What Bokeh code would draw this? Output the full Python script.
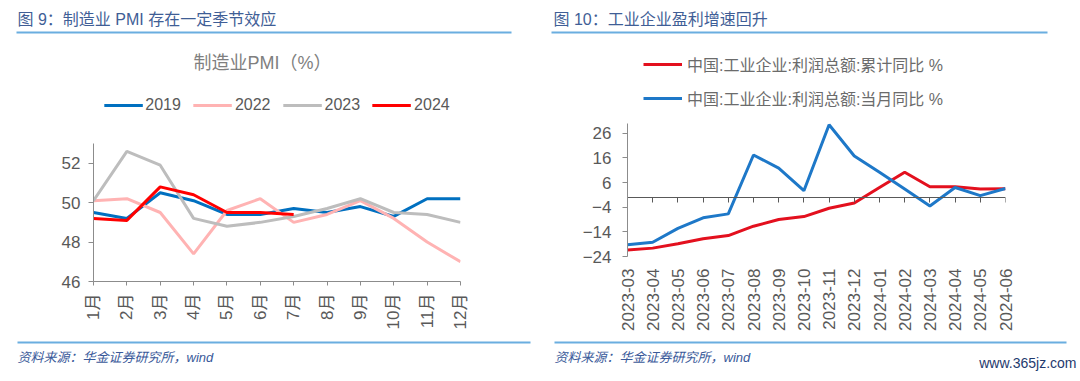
import math
from bokeh.plotting import figure
from bokeh.models import (Range1d, FixedTicker, LinearAxis, Legend, LegendItem,
                          Label, BoxAnnotation)
from bokeh.layouts import row, column
from bokeh.embed import file_html
from bokeh.resources import INLINE

# ---------------- data ----------------
months = list(range(1, 13))
month_labels = [f"{m}月" for m in months]
pmi_2019 = [49.5, 49.2, 50.5, 50.1, 49.4, 49.4, 49.7, 49.5, 49.8, 49.3, 50.2, 50.2]
pmi_2022 = [50.1, 50.2, 49.5, 47.4, 49.6, 50.2, 49.0, 49.4, 50.1, 49.2, 48.0, 47.0]
pmi_2023 = [50.1, 52.6, 51.9, 49.2, 48.8, 49.0, 49.3, 49.7, 50.2, 49.5, 49.4, 49.0]
pmi_2024 = [49.2, 49.1, 50.8, 50.4, 49.5, 49.5, 49.4]
pmi_ticks = [46, 48, 50, 52]

profit_periods = ["2023-03", "2023-04", "2023-05", "2023-06", "2023-07", "2023-08",
                  "2023-09", "2023-10", "2023-11", "2023-12", "2024-01", "2024-02",
                  "2024-03", "2024-04", "2024-05", "2024-06"]
profit_cum = [-21.4, -20.6, -18.8, -16.8, -15.5, -11.7, -9.0, -7.8, -4.4, -2.3,
              4.0, 10.2, 4.3, 4.3, 3.4, 3.5]
profit_month = [-19.2, -18.2, -12.6, -8.3, -6.7, 17.2, 11.9, 2.7, 29.5, 16.8,
                10.2, 3.4, -3.5, 4.0, 0.7, 3.6]
profit_ticks = [-24, -14, -4, 6, 16, 26]

FONT = "Liberation Sans, Noto Sans CJK SC"
TICK_COLOR = "#595959"
AXIS_COLOR = "#8C8C8C"
TITLE_COLOR = "#3F5E96"
RULE_COLOR = "#6AAEE0"
FOOT_COLOR = "#3A5A9A"

PAGE_W = 1080
HEAD_H = 36          # header strip: page y 0..36
MID_TOP = 36         # chart strip: page y 36..340
MID_BOTTOM = 340
FOOT_H = 40          # footer strip: page y 340..380
FRAME_BOTTOM = 281   # page y of the charts' lower frame edge


class Mapper:
    """Converts page pixel positions into a figure's data coordinates."""
    def __init__(self, px0, px1, vx0, vx1, py0, py1, vy0, vy1):
        self.kx = (vx1 - vx0) / (px1 - px0)
        self.ky = (vy1 - vy0) / (py0 - py1)
        self.px0, self.vx0, self.py0, self.vy0 = px0, vx0, py0, vy0

    def x(self, X):
        return self.vx0 + (X - self.px0) * self.kx

    def y(self, Y):
        return self.vy0 + (self.py0 - Y) * self.ky


def text_at(p, m, X, Y, text, size, color, align="left", style="normal"):
    p.add_layout(Label(x=m.x(X), y=m.y(Y), text=text,
                       text_font=FONT, text_font_size=size, text_color=color,
                       text_align=align, text_baseline="middle",
                       text_font_style=style))


def rule(p, m, X0, X1, Y):
    p.add_layout(BoxAnnotation(left=m.x(X0), right=m.x(X1),
                               bottom=m.y(Y + 1), top=m.y(Y - 1),
                               fill_color=RULE_COLOR, fill_alpha=1.0,
                               line_color=None))


def style_axis(ax, size="17px"):
    ax.axis_line_color = AXIS_COLOR
    ax.major_tick_line_color = AXIS_COLOR
    ax.minor_tick_line_color = None
    ax.major_label_text_font = FONT
    ax.major_label_text_font_size = size
    ax.major_label_text_color = TICK_COLOR


def strip(height, top):
    """A bare full-width figure whose data units are page pixels."""
    f = figure(width=PAGE_W, height=height, output_backend="svg",
               toolbar_location=None, x_range=Range1d(0, PAGE_W),
               y_range=Range1d(0, height), x_axis_location=None,
               y_axis_location=None, min_border=0)
    f.outline_line_color = None
    f.xgrid.grid_line_color = None
    f.ygrid.grid_line_color = None
    return f, Mapper(0, PAGE_W, 0, PAGE_W, top + height, top, 0, height)


# ---------------- header ----------------
head, mH = strip(HEAD_H, 0)
text_at(head, mH, 17, 19, "图 9：制造业 PMI 存在一定季节效应", "16px", TITLE_COLOR)
rule(head, mH, 16, 511, 32)
text_at(head, mH, 553, 19, "图 10：工业企业盈利增速回升", "16px", TITLE_COLOR)
rule(head, mH, 551, 1047, 32)

# ---------------- left chart ----------------
MID_H = MID_BOTTOM - MID_TOP
mL = Mapper(93, 460, 1, 12, 281, 143, 46, 53)
p1 = figure(width=540, height=MID_H, output_backend="svg", toolbar_location=None,
            x_range=Range1d(1, 12),
            y_range=Range1d(46, mL.y(MID_TOP)))
p1.min_border_left = 93
p1.min_border_right = 80
p1.min_border_top = 0
p1.min_border_bottom = MID_BOTTOM - FRAME_BOTTOM
p1.outline_line_color = None
p1.xgrid.grid_line_color = None
p1.ygrid.grid_line_color = None

xa = p1.xaxis[0]
style_axis(xa)
xa.ticker = FixedTicker(ticks=months)
xa.major_label_overrides = {m: lab for m, lab in zip(months, month_labels)}
xa.major_label_orientation = math.pi / 2
xa.major_tick_out = 4
xa.major_tick_in = 0
xa.major_label_standoff = 8

ya = p1.yaxis[0]
style_axis(ya)
ya.ticker = FixedTicker(ticks=pmi_ticks)
ya.bounds = (46, 53)
ya.major_tick_out = 5
ya.major_tick_in = 0
ya.major_label_standoff = 8

r19 = p1.line(months, pmi_2019, line_color="#0070C0", line_width=3)
r22 = p1.line(months, pmi_2022, line_color="#FFB3B3", line_width=3)
r23 = p1.line(months, pmi_2023, line_color="#BDBDBD", line_width=3)
r24 = p1.line(months[:len(pmi_2024)], pmi_2024, line_color="#FF0000", line_width=3)

leg1 = Legend(items=[LegendItem(label="2019", renderers=[r19]),
                     LegendItem(label="2022", renderers=[r22]),
                     LegendItem(label="2023", renderers=[r23]),
                     LegendItem(label="2024", renderers=[r24])],
              orientation="horizontal", location="top_center",
              glyph_width=39, glyph_height=20, label_height=20,
              label_standoff=3, spacing=12, padding=0, margin=95 - MID_TOP,
              label_text_font=FONT, label_text_font_size="16px",
              label_text_color=TICK_COLOR,
              border_line_color=None, background_fill_alpha=0)
p1.add_layout(leg1)
text_at(p1, mL, 262, 62, "制造业PMI（%）", "18px", "#7F7F7F", align="center")

# ---------------- right chart ----------------
xs = list(range(len(profit_periods)))
mR = Mapper(627, 1005, 0, len(xs) - 1, 256, 123, -24, 30)
p2 = figure(width=540, height=MID_H, output_backend="svg", toolbar_location=None,
            x_range=Range1d(0, len(xs) - 1),
            y_range=Range1d(mR.y(FRAME_BOTTOM), mR.y(MID_TOP)))
p2.min_border_left = 87
p2.min_border_right = 75
p2.min_border_top = 0
p2.min_border_bottom = MID_BOTTOM - FRAME_BOTTOM
p2.outline_line_color = None
p2.xgrid.grid_line_color = None
p2.ygrid.grid_line_color = None

xb = p2.xaxis[0]
style_axis(xb)
xb.ticker = FixedTicker(ticks=xs)
xb.major_label_overrides = {i: lab for i, lab in zip(xs, profit_periods)}
xb.major_label_orientation = math.pi / 2
xb.axis_line_color = None
xb.major_tick_line_color = None
xb.major_tick_out = 0
xb.major_tick_in = 0
xb.major_label_standoff = -13

zero_axis = LinearAxis(fixed_location=0, ticker=FixedTicker(ticks=xs))
zero_axis.axis_line_color = "#595959"
zero_axis.major_tick_line_color = "#595959"
zero_axis.minor_tick_line_color = None
zero_axis.major_tick_in = 0
zero_axis.major_tick_out = 5
zero_axis.major_label_standoff = 0
zero_axis.major_label_overrides = {i: "" for i in xs}
zero_axis.major_label_text_color = None
zero_axis.major_label_text_font_size = "1px"
p2.add_layout(zero_axis, "below")

yb = p2.yaxis[0]
style_axis(yb)
yb.ticker = FixedTicker(ticks=profit_ticks)
yb.bounds = (-24, 30)
yb.major_tick_out = 5
yb.major_tick_in = 0
yb.major_label_standoff = 11

rc = p2.line(xs, profit_cum, line_color="#E3101E", line_width=3)
rm = p2.line(xs, profit_month, line_color="#1E78C8", line_width=3)

leg2 = Legend(items=[LegendItem(label="中国:工业企业:利润总额:累计同比 %", renderers=[rc]),
                     LegendItem(label="中国:工业企业:利润总额:当月同比 %", renderers=[rm])],
              orientation="vertical", location="top_left",
              glyph_width=39, glyph_height=20, label_height=20,
              label_standoff=5, spacing=10, padding=0, margin=16,
              label_text_font=FONT, label_text_font_size="16px",
              label_text_color="#6B6B6B",
              border_line_color=None, background_fill_alpha=0)
p2.add_layout(leg2)

# ---------------- footer ----------------
foot, mF = strip(FOOT_H, MID_BOTTOM)
rule(foot, mF, 17, 530, 342)
rule(foot, mF, 554, 1066, 342)
text_at(foot, mF, 17, 357, "资料来源：华金证券研究所，wind", "13px", FOOT_COLOR,
        style="italic")
text_at(foot, mF, 554, 357, "资料来源：华金证券研究所，wind", "13px", FOOT_COLOR,
        style="italic")
text_at(foot, mF, 1076, 362, "www.365jz.com", "14px", "#1F3A6E", align="right")

layout = column(head, row(p1, p2), foot)
open("out.html", "w").write(file_html(layout, INLINE))
